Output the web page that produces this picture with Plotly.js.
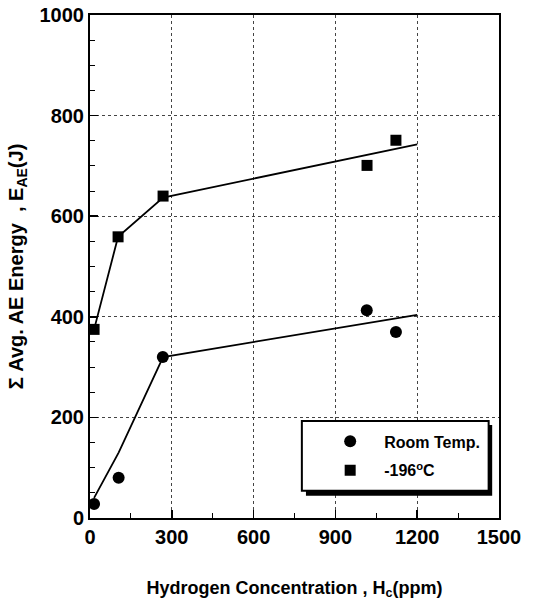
<!DOCTYPE html>
<html><head><meta charset="utf-8">
<script src="https://cdn.plot.ly/plotly-3.0.1.min.js"></script>
<style>html,body{margin:0;padding:0;background:#fff;}#chart{width:533px;height:603px;}</style>
</head><body><div id="chart"></div>
<script>
// Data
const roomX = [15, 105, 267, 1015, 1122];
const roomY = [28, 80, 320, 413, 370];
const coldX = [15, 103, 268, 1016, 1122];
const coldY = [375, 559, 640, 701, 751];
const roomFitX = [15, 105, 268, 1200];
const roomFitY = [40, 130, 320, 404];
const coldFitX = [15, 103, 268, 1200];
const coldFitY = [375, 559, 637, 743];
const xTicks = [0, 300, 600, 900, 1200, 1500];
const yTicks = [0, 200, 400, 600, 800, 1000];
const seriesNames = ['Room Temp.', '-196<sup>o</sup>C'];

const font = {family: 'Liberation Sans, Arial, sans-serif', color: '#000', weight: 700};

const traces = [
  {x: roomFitX, y: roomFitY, mode: 'lines', line: {color: '#000', width: 1.8}, showlegend: false, hoverinfo: 'skip'},
  {x: coldFitX, y: coldFitY, mode: 'lines', line: {color: '#000', width: 1.8}, showlegend: false, hoverinfo: 'skip'},
  {x: roomX, y: roomY, mode: 'markers', name: seriesNames[0], legendgroup: 'a',
   marker: {symbol: 'circle', size: 12, color: '#000'}},
  {x: coldX, y: coldY, mode: 'markers', name: seriesNames[1], legendgroup: 'b',
   marker: {symbol: 'square', size: 11, color: '#000'}}
];

const axisCommon = {
  showline: true, linecolor: '#000', linewidth: 2, mirror: true,
  ticks: 'inside', ticklen: 8, tickwidth: 1.5, tickcolor: '#000',
  showgrid: true, gridcolor: '#444', griddash: 'dot', gridwidth: 1,
  zeroline: false, tickfont: Object.assign({size: 20}, font),
  minor: {ticks: 'inside', ticklen: 5, tickcolor: '#000', tickwidth: 1, showgrid: false}
};

const layout = {
  width: 533, height: 603,
  margin: {l: 90, r: 34, t: 15, b: 85},
  paper_bgcolor: '#fff', plot_bgcolor: '#fff',
  showlegend: true,
  xaxis: Object.assign({}, axisCommon, {
    range: [0, 1500], tickvals: xTicks, ticktext: xTicks.map(String),
    minor: Object.assign({}, axisCommon.minor, {dtick: 150}),
    title: {text: 'Hydrogen Concentration , H<sub>c</sub>(ppm)', font: Object.assign({size: 18}, font), standoff: 34}
  }),
  yaxis: Object.assign({}, axisCommon, {
    range: [0, 1000], tickvals: yTicks, ticktext: yTicks.map(String),
    minor: Object.assign({}, axisCommon.minor, {dtick: 50}),
    title: {text: 'Σ Avg. AE Energy  , E<sub>AE</sub>(J)', font: Object.assign({size: 20}, font), standoff: 11}
  }),
  legend: {
    x: 0.553, y: 0.186, xanchor: 'left', yanchor: 'top',
    bgcolor: 'rgba(0,0,0,0)', borderwidth: 0,
    font: Object.assign({size: 16}, font),
    traceorder: 'grouped', tracegroupgap: 5, itemwidth: 58
  },
  shapes: [
    {type: 'rect', xref: 'x', yref: 'y', x0: 792, x1: 1475, y0: 44, y1: 185,
     fillcolor: '#000', line: {width: 0}, layer: 'above'},
    {type: 'rect', xref: 'x', yref: 'y', x0: 777, x1: 1462, y0: 54, y1: 193,
     fillcolor: '#fff', line: {color: '#000', width: 2}, layer: 'above'}
  ]
};

Plotly.newPlot('chart', traces, layout, {displayModeBar: false, staticPlot: true});
</script></body></html>
